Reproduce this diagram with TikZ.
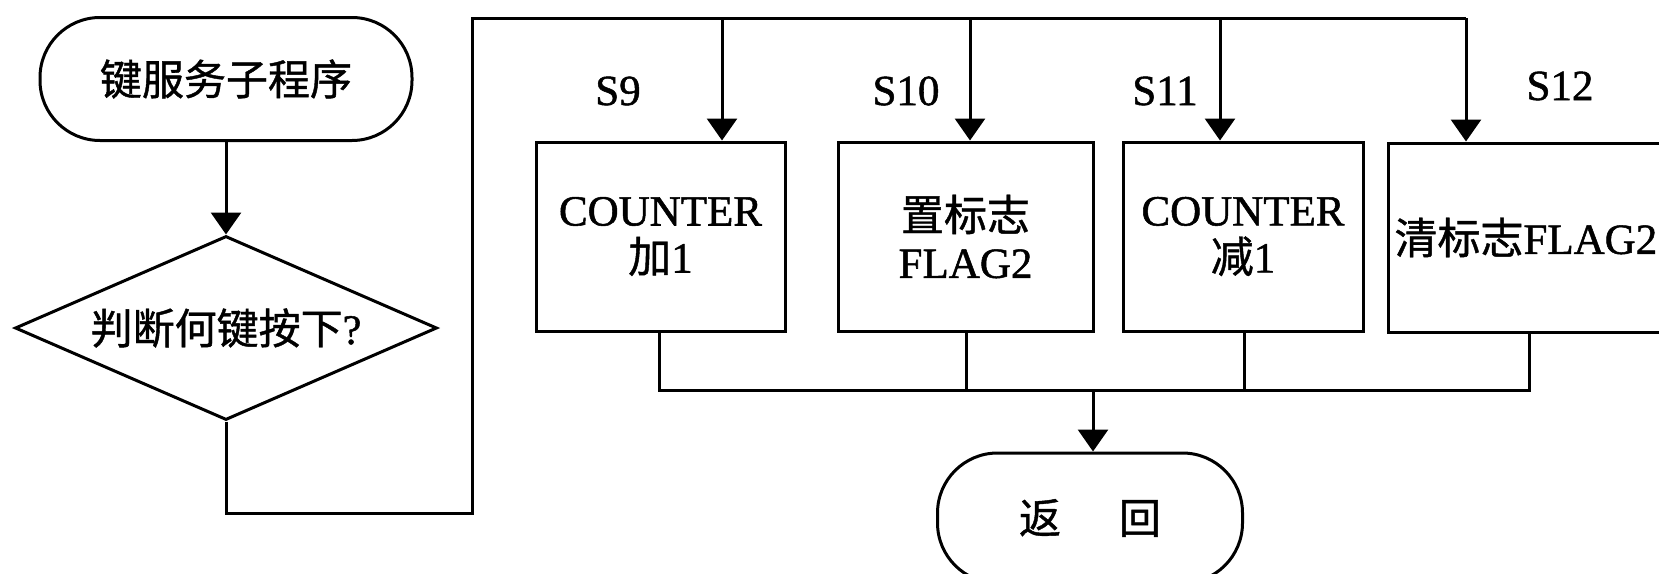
\documentclass[tikz,border=0pt]{standalone}
\usepackage{fontspec}
\setmainfont{Liberation Serif}[FakeBold=1.2]
\newfontfamily\cjk{Noto Sans CJK SC}[FakeBold=1.0]
\usetikzlibrary{arrows.meta,shapes.geometric}
\begin{document}
\begin{tikzpicture}[x=1pt,y=-1pt,line width=3pt,
  term/.style={draw,rounded corners=60pt,inner sep=0pt,font={\cjk\fontsize{42}{47}\selectfont}},
  proc/.style={draw,inner sep=0pt,align=center,font={\fontsize{43}{47}\selectfont}},
  dec/.style={draw,diamond,aspect=2.29,inner sep=0pt,font={\cjk\fontsize{42}{47}\selectfont}},
  lbl/.style={inner sep=0pt,font={\fontsize{43}{47}\selectfont}},
  arr/.style={-{Triangle[width=30pt,length=22pt]}}]
\useasboundingbox (0,0) rectangle (1659,573);
\clip (0,0) rectangle (1659,573);
% nodes
\node[term,minimum width=372pt,minimum height=123pt] (start) at (226,79) {键服务子程序};
\node[dec,minimum width=422pt,minimum height=184pt] (dec) at (226,328) {判断何键按下{\rmfamily ?}};
\node[proc,minimum width=249pt,minimum height=189pt] (b1) at (660.5,236.5) {COUNTER\\{\cjk 加}1};
\node[proc,minimum width=255pt,minimum height=189pt] (b2) at (965.5,236.5) {{\cjk 置标志}\\FLAG2};
\node[proc,minimum width=240pt,minimum height=189pt] (b3) at (1243,236.5) {COUNTER\\{\cjk 减}1};
\node[proc,anchor=west,minimum width=340pt,minimum height=189pt,text width=330pt,inner xsep=6pt,align=left] (b4) at (1387,237.5) {{\cjk 清标志}FLAG2};
\node[term,minimum width=305pt,minimum height=130pt] (end) at (1090,518) {返\hspace{58pt}回};
% labels
\node[lbl] (s9) at (618,91) {S9};
\node[lbl] (s10) at (906,91) {S10};
\node[lbl] (s11) at (1165,91) {S11};
\node[lbl] (s12) at (1560,86) {S12};
% junction coordinates
\coordinate (c1) at (226,513);
\coordinate (c2) at (472,513);
\coordinate (t0) at (472,18);
\coordinate (t1) at (722,18);
\coordinate (t2) at (970,18);
\coordinate (t3) at (1220,18);
\coordinate (t4) at (1466,18);
\coordinate (u1) at (659,390);
\coordinate (u2) at (966,390);
\coordinate (u3) at (1244,390);
\coordinate (u4) at (1529,390);
\coordinate (m) at (1093,390);
% connectors
\draw[arr] (start) -- (dec);
\draw (dec.south) -- (c1) -- (c2) -- (t0) -- (t4);
\draw[arr] (t1) -- (t1 |- b1.north);
\draw[arr] (t2) -- (t2 |- b2.north);
\draw[arr] (t3) -- (t3 |- b3.north);
\draw[arr] (t4) -- (t4 |- b4.north);
\draw (u1 |- b1.south) -- (u1) -- (u4) -- (u4 |- b4.south);
\draw (u2 |- b2.south) -- (u2);
\draw (u3 |- b3.south) -- (u3);
\draw[arr] (m) -- (m |- end.north);
\end{tikzpicture}
\end{document}
